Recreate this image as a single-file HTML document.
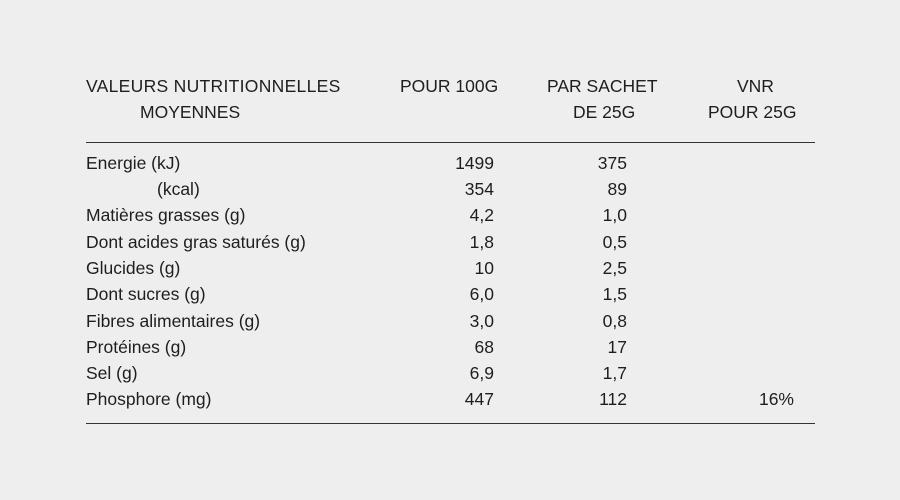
<!DOCTYPE html>
<html><head><meta charset="utf-8"><style>
body{margin:0;width:900px;height:500px;background:#eeeeee;position:relative;overflow:hidden;font-family:"Liberation Sans",sans-serif;font-size:17.5px;color:#1e1e1e}
div{position:absolute;line-height:20px;white-space:nowrap}
.l{left:86px}.r1{right:406px;text-align:right}.r2{right:273px;text-align:right}.r3{right:106px;text-align:right}
.hr{height:1px;background:#333;left:86px;width:729px}
</style></head><body>
<div style="left:86px;top:76px;letter-spacing:0.3px">VALEURS NUTRITIONNELLES</div>
<div style="left:140px;top:102px">MOYENNES</div>
<div style="left:400px;top:76px">POUR 100G</div>
<div style="left:547px;top:76px">PAR SACHET</div>
<div style="left:573px;top:102px">DE 25G</div>
<div style="left:737px;top:76px">VNR</div>
<div style="left:708px;top:102px">POUR 25G</div>
<div class="hr" style="top:142px"></div>
<div class="l" style="top:153px">Energie (kJ)</div><div class="r1" style="top:153px">1499</div><div class="r2" style="top:153px">375</div>
<div style="left:157px;top:179px">(kcal)</div><div class="r1" style="top:179px">354</div><div class="r2" style="top:179px">89</div>
<div class="l" style="top:205px">Matières grasses (g)</div><div class="r1" style="top:205px">4,2</div><div class="r2" style="top:205px">1,0</div>
<div class="l" style="top:232px">Dont acides gras saturés (g)</div><div class="r1" style="top:232px">1,8</div><div class="r2" style="top:232px">0,5</div>
<div class="l" style="top:258px">Glucides (g)</div><div class="r1" style="top:258px">10</div><div class="r2" style="top:258px">2,5</div>
<div class="l" style="top:284px">Dont sucres (g)</div><div class="r1" style="top:284px">6,0</div><div class="r2" style="top:284px">1,5</div>
<div class="l" style="top:311px">Fibres alimentaires (g)</div><div class="r1" style="top:311px">3,0</div><div class="r2" style="top:311px">0,8</div>
<div class="l" style="top:337px">Protéines (g)</div><div class="r1" style="top:337px">68</div><div class="r2" style="top:337px">17</div>
<div class="l" style="top:363px">Sel (g)</div><div class="r1" style="top:363px">6,9</div><div class="r2" style="top:363px">1,7</div>
<div class="l" style="top:389px">Phosphore (mg)</div><div class="r1" style="top:389px">447</div><div class="r2" style="top:389px">112</div><div class="r3" style="top:389px">16%</div>
<div class="hr" style="top:423px"></div>
</body></html>
